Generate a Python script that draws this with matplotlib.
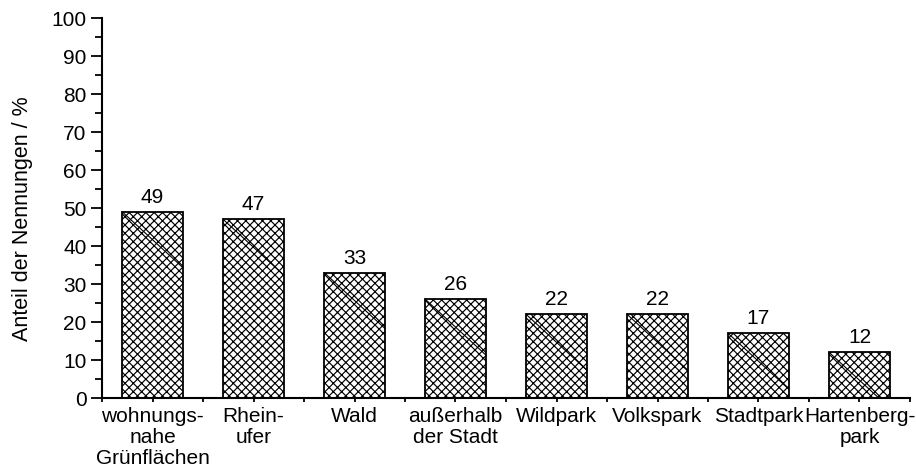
import numpy as np
import matplotlib
matplotlib.use("Agg")
import matplotlib.pyplot as plt

plt.rcParams["font.family"] = ["Liberation Sans", "DejaVu Sans"]
plt.rcParams["hatch.linewidth"] = 0.85

# data
categories = ["wohnungs-\nnahe\nGrünflächen", "Rhein-\nufer", "Wald",
              "außerhalb\nder Stadt", "Wildpark", "Volkspark", "Stadtpark",
              "Hartenberg-\npark"]
values = [49, 47, 33, 26, 22, 22, 17, 12]
y_label = "Anteil der Nennungen / %"

FS = 15
W = 0.6

fig = plt.figure(figsize=(9.16, 4.67), dpi=100)
ax = fig.add_axes([102 / 916, 69 / 467, 808 / 916, 380 / 467])

x = np.arange(len(values))
ax.bar(x, values, width=W, color="white", edgecolor="black",
       linewidth=1.3, hatch="xxxx", zorder=2)

# thin diagonal stroke from the top-left corner of each bar (as in the original export)
px_x = 1 / 101.0          # data units per pixel, x
px_y = 100 / 380.0        # data units per pixel, y
for xi, v in zip(x, values):
    x0 = xi - W / 2
    run_px = W / px_x
    drop_px = min(run_px * 0.92, v / px_y)
    ax.plot([x0, x0 + drop_px / 0.92 * px_x], [v, v - drop_px * px_y],
            color="black", lw=0.8, zorder=3)

for xi, v in zip(x, values):
    ax.text(xi, v + 1.3, f"{v}", ha="center", va="bottom", fontsize=FS)

ax.set_xlim(-0.5, 7.5)
ax.set_ylim(0, 100)
ax.set_yticks(np.arange(0, 101, 10))
ax.set_yticks(np.arange(5, 100, 10), minor=True)
ax.set_xticks(x)
ax.set_xticks(np.arange(-0.5, 8, 1), minor=True)
ax.set_xticklabels(categories, fontsize=FS, linespacing=1.12)

ax.tick_params(axis="y", which="major", length=8, width=1.3, labelsize=FS, pad=3)
ax.tick_params(axis="y", which="minor", length=5, width=1.3)
ax.tick_params(axis="x", which="both", length=3, width=1.3, pad=3.5)

for side in ["top", "right"]:
    ax.spines[side].set_visible(False)
for side in ["left", "bottom"]:
    ax.spines[side].set_linewidth(1.5)

ax.set_ylabel(y_label, fontsize=15.5)
ax.yaxis.set_label_coords(-0.086, 0.471)

plt.savefig("out.png", dpi=100)
